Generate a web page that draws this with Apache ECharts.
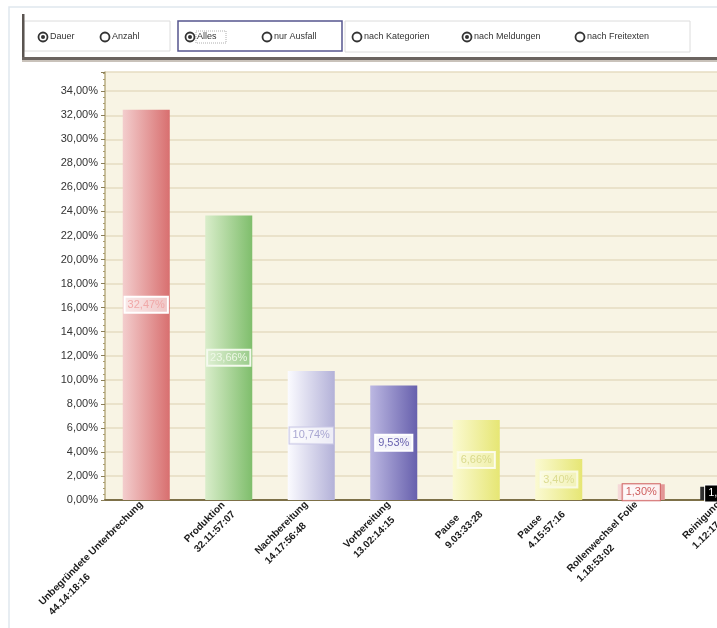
<!DOCTYPE html>
<html>
<head>
<meta charset="utf-8">
<script src="https://cdn.jsdelivr.net/npm/echarts@6/dist/echarts.min.js"></script>
<style>
  html,body{margin:0;padding:0;background:#fff;overflow:hidden;}
  #chart{width:770px;height:628px;}
</style>
</head>
<body>
<div id="chart"></div>
<script>
// Kategorien, Dauer und Anteil
var names=['Unbegründete Unterbrechung','Produktion','Nachbereitung','Vorbereitung','Pause','Pause','Rollenwechsel Folie','Reinigung'];
var durations=['44.14:18:16','32.11:57:07','14.17:56:48','13.02:14:15','9.03:33:28','4.15:57:16','1.18:53:02','1.12:17:30'];
var shares=[32.47,23.66,10.74,9.53,6.66,3.40,1.30,1.10];
var yTicks={min:0,max:35.6,interval:2};

// Farben je Balken (links hell, rechts dunkel)
var fills=[
  ['#f3cdcd','#d86f6f'],
  ['#d9edca','#7fbe6c'],
  ['#fbfbff','#b3b1d8'],
  ['#bcb8e2','#6760ad'],
  ['#fbfad2','#e6e674'],
  ['#fbfad2','#e6e674'],
  ['#f6dada','#e29494'],
  ['#333333','#000000']
];
var labelStyles=[
  {color:'#f0a8a8',backgroundColor:'rgba(255,255,255,0.6)',borderColor:'#ffffff'},
  {color:'#eef8e6',backgroundColor:'rgba(255,255,255,0.2)',borderColor:'#f2f9ec'},
  {color:'#a9a7d2',backgroundColor:'rgba(255,255,255,0.75)',borderColor:'#c9c7e5'},
  {color:'#6a64b0',backgroundColor:'rgba(255,255,255,0.9)',borderColor:'#ffffff'},
  {color:'#d9d98c',backgroundColor:'rgba(255,255,255,0.35)',borderColor:'#fbfbe4'},
  {color:'#dcdc92',backgroundColor:'rgba(255,255,255,0.45)',borderColor:'#f8f8da'},
  {color:'#cf5f5f',backgroundColor:'rgba(255,255,255,0.85)',borderColor:'#d06262'},
  {color:'#ffffff',backgroundColor:'#000000',borderColor:'#ffffff'}
];

function pct(v){
  return v.toFixed(2).replace('.',',')+'%';
}

var categories=[];
for(var i=0;i<names.length;i++){
  categories.push(names[i]+'\n'+durations[i]);
}
// Hilfsachse nur für die kleinen Striche unter der x-Achse
var subCats=[];
for(var k=0;k<names.length*5;k++){subCats.push('');}

var barData=[];
for(var j=0;j<shares.length;j++){
  barData.push({
    value:shares[j],
    itemStyle:{
      color:new echarts.graphic.LinearGradient(0,0,1,0,[
        {offset:0,color:fills[j][0]},
        {offset:1,color:fills[j][1]}
      ])
    },
    label:labelStyles[j]
  });
}

// Werkzeugleiste oben
function radio(x,label,checked){
  var els=[
    {type:'circle',shape:{cx:x+5,cy:37,r:4.5},style:{fill:'#fff',stroke:'#333',lineWidth:1.8}},
    {type:'text',style:{x:x+12,y:37,text:label,fill:'#333',font:'9px "Liberation Sans"',textVerticalAlign:'middle'}}
  ];
  if(checked){
    els.push({type:'circle',shape:{cx:x+5,cy:37,r:2},style:{fill:'#333'}});
  }
  return els;
}
var toolbar=[
  {type:'rect',shape:{x:9,y:7,width:780,height:640},style:{fill:'none',stroke:'#dfe7ee',lineWidth:1.5}},
  {type:'rect',shape:{x:24,y:21,width:146,height:30},style:{fill:'#fff',stroke:'#dcdcdc',lineWidth:1}},
  {type:'rect',shape:{x:178,y:21,width:164,height:30},style:{fill:'#fff',stroke:'#55558f',lineWidth:1.5}},
  {type:'rect',shape:{x:345,y:21,width:345,height:31},style:{fill:'#fff',stroke:'#dcdcdc',lineWidth:1}},
  {type:'rect',shape:{x:196,y:31,width:30,height:12},style:{fill:'none',stroke:'#999',lineWidth:0.8,lineDash:[1,1]}},
  {type:'rect',shape:{x:22,y:14,width:2.5,height:46},style:{fill:'#5a5450'}},
  {type:'rect',shape:{x:22,y:57,width:760,height:3},style:{fill:'#6b6460'}},
  {type:'rect',shape:{x:22,y:60,width:760,height:2},style:{fill:'#c9c2ba'}}
];
toolbar=toolbar
  .concat(radio(38,'Dauer',true))
  .concat(radio(100,'Anzahl',false))
  .concat(radio(185,'Alles',true))
  .concat(radio(262,'nur Ausfall',false))
  .concat(radio(352,'nach Kategorien',false))
  .concat(radio(462,'nach Meldungen',true))
  .concat(radio(575,'nach Freitexten',false));

var chart=echarts.init(document.getElementById('chart'));
chart.setOption({
  animation:false,
  textStyle:{fontFamily:'Liberation Sans'},
  graphic:toolbar,
  grid:{
    left:105,top:72,right:5,bottom:128,
    show:true,backgroundColor:'#f8f4e4',borderWidth:0
  },
  xAxis:[{
    type:'category',
    data:categories,
    axisLine:{lineStyle:{color:'#7d7048',width:2}},
    axisTick:{alignWithLabel:true,length:5,lineStyle:{color:'#8a7e58'}},
    axisLabel:{
      interval:0,rotate:45,margin:8,
      formatter:function(v){
        var parts=v.split('\n');
        return '{a|'+parts[0]+'}\n{a|'+parts[1]+'}';
      },
      rich:{a:{align:'left',fontSize:10,fontWeight:'bold',color:'#1a1a1a',lineHeight:14}}
    }
  },{
    type:'category',
    data:subCats,
    position:'bottom',
    axisLine:{show:false},
    axisTick:{alignWithLabel:true,interval:0,length:3,lineStyle:{color:'#8a7e58'}},
    axisLabel:{show:false}
  }],
  yAxis:{
    type:'value',
    min:yTicks.min,max:yTicks.max,interval:yTicks.interval,
    axisLine:{show:true,lineStyle:{color:'#b9ad80',width:1.5}},
    axisTick:{show:true,length:4,lineStyle:{color:'#8a7e58'}},
    minorTick:{show:true,splitNumber:4,length:2,lineStyle:{color:'#a89c70'}},
    axisLabel:{
      fontSize:11,color:'#333',margin:7,showMaxLabel:false,
      formatter:function(v){return pct(v);}
    },
    splitLine:{lineStyle:{color:'#e6ddc2',width:1.5}}
  },
  series:[{
    type:'bar',
    data:barData,
    barWidth:'57%',
    label:{
      show:true,position:'inside',fontSize:11,
      borderWidth:1,padding:[3,3,2,3],
      formatter:function(p){return pct(p.value);}
    }
  }]
});
</script>
</body>
</html>
